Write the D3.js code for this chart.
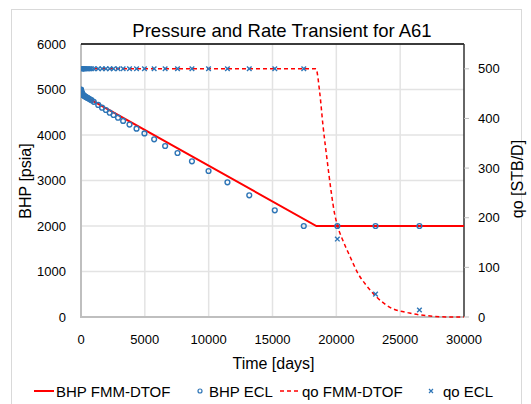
<!DOCTYPE html>
<html>
<head>
<meta charset="utf-8">
<script src="https://cdn.jsdelivr.net/npm/d3@7"></script>
<style>
html,body{margin:0;padding:0;background:#fff;}
svg{display:block;font-family:"Liberation Sans",Arial,sans-serif;}
</style>
</head>
<body>
<svg id="chart" width="531" height="404"></svg>
<script>
// ---------- data ----------
const title = "Pressure and Rate Transient for A61";
const xTicks = [0, 5000, 10000, 15000, 20000, 25000, 30000];
const yLeftTicks = [0, 1000, 2000, 3000, 4000, 5000, 6000];
const yRightTicks = [0, 100, 200, 300, 400, 500];

// BHP FMM-DTOF (time [days], BHP [psia])
const bhpFmmT = [0, 20, 80, 300, 18437, 30000];
const bhpFmmV = [5000, 4950, 4910, 4850, 2000, 2000];

// qo FMM-DTOF (time [days], qo [STB/D])
const qoFmmT = [0, 18400, 18700, 18950, 19270, 19610, 19850, 20100, 20500, 21070, 21690, 22340, 23125, 24160, 25730, 27550, 29000, 30000];
const qoFmmV = [500, 500, 452, 387, 318, 250, 210, 183, 155, 122, 88, 64, 41, 20, 8, 1.5, 0, 0];

// ECL report times and values
const eclT = [0, 5, 10, 20, 30, 45, 60, 80, 100, 130, 160, 200, 250, 300, 360, 430, 510, 600, 700, 820,
  1000, 1350, 1650, 1950, 2250, 2550, 2900, 3300, 3800, 4350, 4970, 5730, 6590, 7560, 8690, 9990,
  11470, 13180, 15180, 17450, 20080, 23070, 26510];
const bhpEcl = [5000, 4990, 4975, 4960, 4945, 4930, 4920, 4910, 4900, 4890, 4880, 4870, 4860, 4850, 4840, 4830, 4815, 4800, 4785, 4765,
  4730, 4660, 4600, 4550, 4490, 4440, 4380, 4310, 4230, 4140, 4035, 3905, 3758, 3604, 3422, 3209,
  2960, 2675, 2345, 2000, 2000, 2000, 2000];
const qoEcl = [500, 500, 500, 500, 500, 500, 500, 500, 500, 500, 500, 500, 500, 500, 500, 500, 500, 500, 500, 500,
  500, 500, 500, 500, 500, 500, 500, 500, 500, 500, 500, 500, 500, 500, 500, 500,
  500, 500, 500, 500, 157, 46, 14];

const legendLabels = ["BHP FMM-DTOF", "BHP ECL", "qo FMM-DTOF", "qo ECL"];

// ---------- layout ----------
const svg = d3.select("#chart");
const red = "#ff0000", blue = "#2e75b6";
const L = 81, R = 464, T = 44, B = 317;

const x = d3.scaleLinear().domain([0, 30000]).range([L, R]);
const yL = d3.scaleLinear().domain([0, 6000]).range([B, T]);
const yR = d3.scaleLinear().domain([0, 550]).range([B, T]);

// outer border
svg.append("rect").attr("x", 11.5).attr("y", 9.5).attr("width", 510).attr("height", 420)
  .attr("fill", "#fff").attr("stroke", "#d9d9d9").attr("stroke-width", 1);

// gridlines
svg.append("g").selectAll("line").data(yLeftTicks.slice(1)).join("line")
  .attr("x1", L).attr("x2", R).attr("y1", d => yL(d)).attr("y2", d => yL(d))
  .attr("stroke", "#e3e3e3").attr("stroke-width", 1.5);
svg.append("g").selectAll("line").data(xTicks.slice(1, -1)).join("line")
  .attr("x1", d => x(d)).attr("x2", d => x(d)).attr("y1", T).attr("y2", B)
  .attr("stroke", "#e3e3e3").attr("stroke-width", 1.5);

// axes lines
svg.append("line").attr("x1", L).attr("x2", L).attr("y1", T).attr("y2", B + 1)
  .attr("stroke", "#bfbfbf").attr("stroke-width", 2);
svg.append("line").attr("x1", L - 1).attr("x2", R).attr("y1", B).attr("y2", B)
  .attr("stroke", "#bfbfbf").attr("stroke-width", 2);
svg.append("line").attr("x1", L).attr("x2", R).attr("y1", T).attr("y2", T)
  .attr("stroke", "#000").attr("stroke-width", 1.5);
svg.append("line").attr("x1", R).attr("x2", R).attr("y1", T).attr("y2", B)
  .attr("stroke", "#333").attr("stroke-width", 1.5);

// right ticks
svg.append("g").selectAll("line").data(yRightTicks).join("line")
  .attr("x1", R).attr("x2", R + 5).attr("y1", d => yR(d)).attr("y2", d => yR(d))
  .attr("stroke", "#bfbfbf").attr("stroke-width", 1);

// tick labels
const tickFont = 13;
svg.append("g").selectAll("text").data(yLeftTicks).join("text")
  .attr("x", 66).attr("y", d => yL(d) + 4.5).attr("text-anchor", "end")
  .attr("font-size", tickFont).attr("fill", "#000").text(d => d);
svg.append("g").selectAll("text").data(yRightTicks).join("text")
  .attr("x", 478).attr("y", d => yR(d) + 4.5).attr("text-anchor", "start")
  .attr("font-size", tickFont).attr("fill", "#000").text(d => d);
svg.append("g").selectAll("text").data(xTicks).join("text")
  .attr("x", d => x(d)).attr("y", 343.5).attr("text-anchor", "middle")
  .attr("font-size", tickFont).attr("fill", "#000").text(d => d);

// titles
svg.append("text").attr("x", 282).attr("y", 37).attr("text-anchor", "middle")
  .attr("font-size", 18.5).attr("fill", "#000").text(title);
svg.append("text").attr("x", 273.5).attr("y", 369).attr("text-anchor", "middle")
  .attr("font-size", 16).attr("fill", "#000").text("Time [days]");
svg.append("text").attr("transform", "translate(31,181) rotate(-90)").attr("text-anchor", "middle")
  .attr("font-size", 16).attr("fill", "#000").text("BHP [psia]");
svg.append("text").attr("transform", "translate(523,179) rotate(-90)").attr("text-anchor", "middle")
  .attr("font-size", 16).attr("fill", "#000").text("qo [STB/D]");

// clip
svg.append("clipPath").attr("id", "clip").append("rect")
  .attr("x", L).attr("y", T - 6).attr("width", R - L + 1).attr("height", B - T + 8);
const plot = svg.append("g").attr("clip-path", "url(#clip)");

// qo FMM-DTOF dashed line
const qoLine = d3.line().x(d => x(d[0])).y(d => yR(d[1])).curve(d3.curveMonotoneX);
plot.append("path").datum(qoFmmT.map((t, i) => [t, qoFmmV[i]]))
  .attr("d", qoLine).attr("fill", "none").attr("stroke", red)
  .attr("stroke-width", 1.5).attr("stroke-dasharray", "4,3");

// qo ECL x markers
const xs = 2.3;
plot.append("g").selectAll("path").data(eclT.map((t, i) => [t, qoEcl[i]])).join("path")
  .attr("d", d => {
    const cx = x(d[0]), cy = yR(d[1]);
    return `M${cx - xs},${cy - xs}L${cx + xs},${cy + xs}M${cx - xs},${cy + xs}L${cx + xs},${cy - xs}`;
  })
  .attr("stroke", blue).attr("stroke-width", 1.4).attr("fill", "none");

// BHP FMM-DTOF solid line
const bhpLine = d3.line().x(d => x(d[0])).y(d => yL(d[1]));
plot.append("path").datum(bhpFmmT.map((t, i) => [t, bhpFmmV[i]]))
  .attr("d", bhpLine).attr("fill", "none").attr("stroke", red).attr("stroke-width", 2);

// BHP ECL circles
plot.append("g").selectAll("circle").data(eclT.map((t, i) => [t, bhpEcl[i]])).join("circle")
  .attr("cx", d => x(d[0])).attr("cy", d => yL(d[1])).attr("r", 2.4)
  .attr("fill", "none").attr("stroke", blue).attr("stroke-width", 1.4);

// legend
const ly = 391;
const lg = svg.append("g").attr("font-size", 15).attr("fill", "#000");
lg.append("line").attr("x1", 34).attr("x2", 54).attr("y1", ly).attr("y2", ly)
  .attr("stroke", red).attr("stroke-width", 2);
lg.append("text").attr("x", 56).attr("y", ly + 5.5).text(legendLabels[0]);
lg.append("circle").attr("cx", 200).attr("cy", ly).attr("r", 2)
  .attr("fill", "none").attr("stroke", blue).attr("stroke-width", 1.2);
lg.append("text").attr("x", 209).attr("y", ly + 5.5).text(legendLabels[1]);
lg.append("line").attr("x1", 280).attr("x2", 300).attr("y1", ly).attr("y2", ly)
  .attr("stroke", red).attr("stroke-width", 1.5).attr("stroke-dasharray", "4,3");
lg.append("text").attr("x", 302).attr("y", ly + 5.5).text(legendLabels[2]);
lg.append("path").attr("d", `M${431 - 2},${ly - 2}L${431 + 2},${ly + 2}M${431 - 2},${ly + 2}L${431 + 2},${ly - 2}`)
  .attr("stroke", blue).attr("stroke-width", 1.2);
lg.append("text").attr("x", 443).attr("y", ly + 5.5).text(legendLabels[3]);
</script>
</body>
</html>
